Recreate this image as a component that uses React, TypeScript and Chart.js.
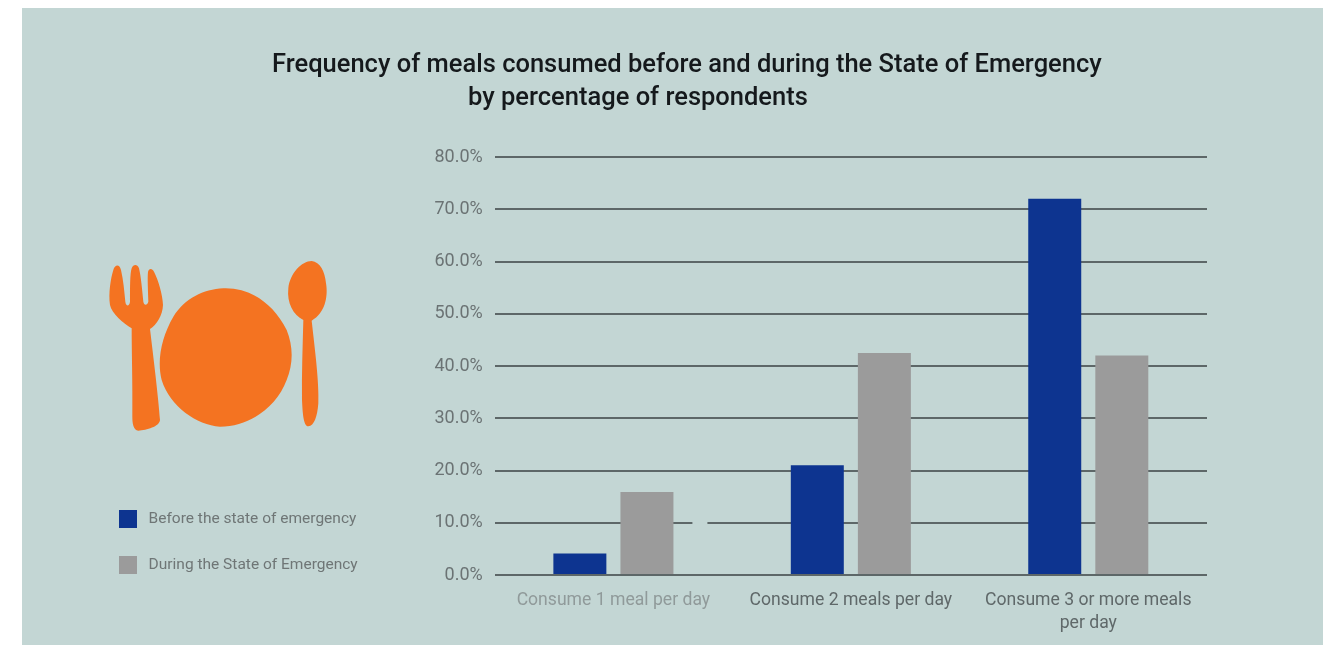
import React, { useEffect, useRef } from "react";
import { Chart, registerables } from "chart.js";

Chart.register(...registerables);

const categories = ["Consume 1 meal per day", "Consume 2 meals per day", ["Consume 3 or more meals", "per day"]];
const beforeValues = [4.1, 21, 72];
const duringValues = [15.9, 42.5, 42];
const beforeLabel = "Before the state of emergency";
const duringLabel = "During the State of Emergency";
const titleLines = [
  "Frequency of meals consumed before and during the State of Emergency",
  "by percentage of respondents",
];
const BG = "#c3d6d4";
const FONT = "Roboto, sans-serif";

const titlePlugin = {
  id: "leftTitle",
  afterDraw(chart: any) {
    const { ctx } = chart;
    ctx.save();
    ctx.fillStyle = "#15191c";
    ctx.font = `500 25.5px ${FONT}`;
    ctx.textBaseline = "middle";
    ctx.textAlign = "left";
    ctx.fillText(titleLines[0], 272, 66);
    ctx.fillText(titleLines[1], 468, 99);
    ctx.restore();
  },
};

const legendLiftPlugin = {
  id: "legendLift",
  afterLayout(chart: any) {
    chart.legend.bottom -= 43;
  },
};

const gridGapPlugin = {
  id: "gridGap",
  beforeDatasetsDraw(chart: any) {
    const { ctx, scales } = chart;
    const y = scales.y.getPixelForValue(10);
    const x = scales.x.getPixelForValue(0);
    ctx.save();
    ctx.fillStyle = BG;
    ctx.fillRect(x + 79, y - 3, 15, 6);
    ctx.restore();
  },
};

export default function App() {
  const ref = useRef<HTMLCanvasElement>(null);
  useEffect(() => {
    const chart = new Chart(ref.current!, {
      type: "bar",
      data: {
        labels: categories as any,
        datasets: [
          { label: beforeLabel, data: beforeValues, backgroundColor: "#0d3490" },
          { label: duringLabel, data: duringValues, backgroundColor: "#9b9b9b" },
        ],
      },
      plugins: [titlePlugin, gridGapPlugin, legendLiftPlugin],
      options: {
        responsive: false,
        animation: false,
        layout: { padding: { left: 91, right: 131, top: 157, bottom: 0 } },
        datasets: { bar: { categoryPercentage: 0.565, barPercentage: 0.79 } },
        plugins: {
          title: { display: false },
          tooltip: { enabled: false },
          legend: {
            position: "left",
            align: "end",
            labels: {
              boxWidth: 18,
              boxHeight: 18,
              padding: 28,
              color: "#6f7676",
              font: { family: FONT, size: 15.5 },
              generateLabels(c: any) {
                const items = Chart.defaults.plugins.legend.labels.generateLabels(c);
                items.forEach((i: any) => {
                  i.text = " " + i.text;
                  i.lineWidth = 0;
                });
                return items;
              },
            },
          },
        },
        scales: {
          x: {
            grid: { display: false },
            border: { display: false },
            afterFit(s: any) {
              s.height = 70;
            },
            ticks: {
              maxRotation: 0,
              autoSkip: false,
              padding: 6,
              color: (c: any) => (c.index === 0 ? "#909a9a" : "#5f6869"),
              font: { family: FONT, size: 17.6, lineHeight: 1.3 },
            },
          },
          y: {
            min: 0,
            max: 80,
            border: { display: false },
            grid: { color: "#5d6768", lineWidth: 2, drawTicks: false },
            afterFit(s: any) {
              s.width = 127;
            },
            ticks: {
              stepSize: 10,
              padding: 12,
              color: "#6b7374",
              font: { family: FONT, size: 18 },
              callback: (v: any) => Number(v).toFixed(1) + "%",
            },
          },
        },
      },
    });
    return () => chart.destroy();
  }, []);

  return (
    <div style={{ position: "absolute", left: 0, top: 0, width: 1338, height: 645, background: "#fff", overflow: "hidden" }}>
      <div style={{ position: "absolute", left: 22, top: 8, width: 1301, height: 637, background: BG }} />
      <svg
        viewBox="0 0 780 570"
        width={260}
        height={190}
        style={{ position: "absolute", left: 90, top: 250 }}
      >
        <g fill="#f47321">
          <path d="M70,60 C74,45 88,40 93,60 C100,90 103,125 106,155 C108,170 118,170 120,155 C120,110 120,70 125,55 C130,42 142,42 147,55 C153,80 157,125 160,155 C162,168 172,166 175,155 C174,120 172,85 174,66 C176,55 186,53 192,65 C205,90 218,135 219,165 C218,195 200,225 180,237 C190,320 205,440 210,510 C208,530 170,540 145,542 C130,540 127,520 127,500 C128,400 125,300 125,235 C100,220 65,190 60,165 C55,130 62,85 70,60 Z" />
          <path d="M400,115 C480,112 550,160 590,240 C610,290 610,340 590,390 C560,470 480,530 390,530 C320,525 240,470 215,390 C200,330 215,260 250,200 C285,145 340,118 400,115 Z" />
          <path d="M665,33 C690,35 705,65 708,100 C715,140 705,190 665,212 C675,300 688,400 685,460 C682,500 672,528 655,529 C640,528 638,490 636,450 C635,370 638,290 640,210 C610,195 590,160 595,115 C600,70 635,33 665,33 Z" />
        </g>
      </svg>
      <canvas ref={ref} width={1338} height={645} style={{ position: "absolute", left: 0, top: 0 }} />
    </div>
  );
}
